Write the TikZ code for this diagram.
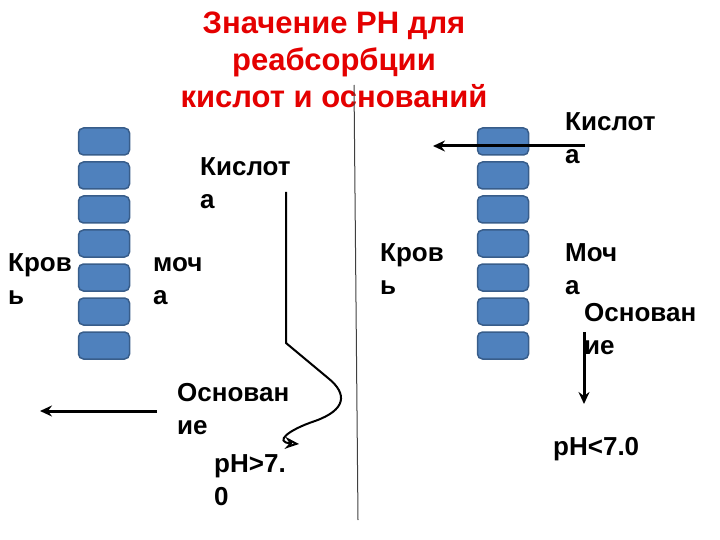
\documentclass[tikz,border=0pt]{standalone}
\usepackage{fontspec}
\setmainfont{Liberation Sans}
\usetikzlibrary{positioning,arrows.meta}
\definecolor{cellfill}{RGB}{79,129,189}
\definecolor{celldraw}{RGB}{56,93,138}
\definecolor{titlered}{RGB}{228,0,0}

\begin{document}
\begin{tikzpicture}[
    x=1pt, y=-1pt,
    cell/.style={rectangle, rounded corners=5pt, draw=celldraw, line width=1.5pt, fill=cellfill, minimum width=51pt, minimum height=27pt, inner sep=0pt},
    label/.style={anchor=base west, align=left, inner sep=0pt, font=\bfseries\fontsize{26}{33}\selectfont},
    heading/.style={anchor=base, align=center, inner sep=0pt, text=titlered, font=\bfseries\fontsize{31}{37}\selectfont},
    arrow/.style={-{Stealth[length=12pt, width=11pt, inset=4pt]}, line width=3pt}
]
    \useasboundingbox (0,0) rectangle (720,540);

    % заголовок
    \node [heading] (title) at (334,108) {Значение РН для\\реабсорбции\\кислот и оснований};

    % разделитель
    \coordinate (divtop) at (354,85);
    \coordinate (divbot) at (358,520);
    \draw [line width=1pt, black!75] (divtop) -- (divbot);

    % клетки канальца
    \foreach \i in {0,...,6} {
        \node [cell] (cellL\i) at (104,{141.5+34*\i}) {};
        \node [cell] (cellR\i) at (503,{141.5+34*\i}) {};
    }

    % левая часть: pH>7.0
    \node [label] (acidL) at (200,209) {Кислот\\а};
    \node [label] (bloodL) at (8,304) {Кров\\ь};
    \node [label] (urineL) at (153,304) {моч\\а};
    \node [label] (baseL) at (177,434) {Основан\\ие};
    \node [label] (phL) at (214,505) {pH>7.\\0};

    \coordinate (acidLstart) at (286,192);
    \coordinate (acidLend) at (299,444);
    \draw [line width=2pt, -{Stealth[open, length=14pt, width=12pt]}] (acidLstart) -- (286,343) -- (328,378)
        .. controls (348,394) and (346,410) .. (315,421)
        .. controls (288,430) and (274,442) .. (acidLend);

    \coordinate (baseLstart) at (157,411);
    \coordinate (baseLend) at (40,411);
    \draw [arrow] (baseLstart) -- (baseLend);

    % правая часть: pH<7.0
    \node [label] (acidR) at (565,164) {Кислот\\а};
    \node [label] (bloodR) at (380,294) {Кров\\ь};
    \node [label] (urineR) at (565,294) {Моч\\а};
    \node [label] (baseR) at (584,354) {Основан\\ие};
    \node [label] (phR) at (553,455) {pH<7.0};

    \coordinate (acidRstart) at (585,146);
    \coordinate (acidRend) at (433,146);
    \draw [arrow] (acidRstart) -- (acidRend);

    \coordinate (baseRstart) at (584,332);
    \coordinate (baseRend) at (584,404);
    \draw [arrow] (baseRstart) -- (baseRend);
\end{tikzpicture}
\end{document}
